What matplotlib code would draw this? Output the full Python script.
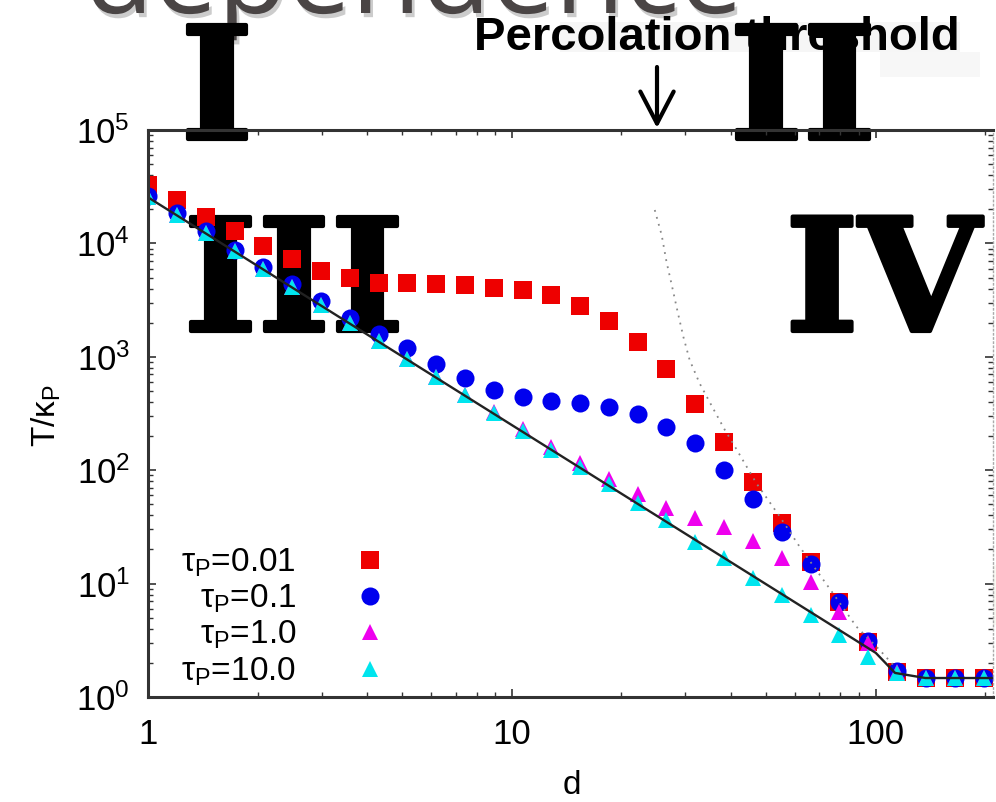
import matplotlib
matplotlib.use("Agg")
import matplotlib.pyplot as plt
import matplotlib.patheffects as pe
from matplotlib.ticker import LogLocator, NullFormatter, FixedLocator, FixedFormatter

plt.rcParams['font.family'] = ['Liberation Sans', 'DejaVu Sans']
plt.rcParams['mathtext.fontset'] = 'custom'
plt.rcParams['mathtext.rm'] = 'Liberation Sans'
plt.rcParams['mathtext.it'] = 'Liberation Sans:italic'
plt.rcParams['mathtext.bf'] = 'Liberation Sans:bold'

# ---------------- data ----------------
d_values = [1.0, 1.2, 1.44, 1.73, 2.07, 2.49, 2.99, 3.58, 4.30, 5.16,
            6.19, 7.43, 8.92, 10.7, 12.8, 15.4, 18.5, 22.2, 26.6, 31.9,
            38.3, 46.0, 55.2, 66.2, 79.5, 95.4, 114.5, 137.4, 164.9, 197.9]

T_tau001 = [3.27e4, 2.41e4, 1.71e4, 1.29e4, 9500, 7280, 5710, 4950, 4470, 4470,
            4390, 4300, 4040, 3880, 3510, 2800, 2070, 1350, 780, 384,
            177, 78.7, 34.2, 15.5, 6.9, 3.05, 1.66, 1.47, 1.47, 1.47]

T_tau01 = [2.62e4, 1.85e4, 1.28e4, 8800, 6200, 4350, 3080, 2200, 1600, 1200,
           865, 651, 510, 443, 408, 392, 361, 313, 241, 174,
           100, 55.7, 28.5, 14.9, 6.9, 3.1, 1.69, 1.47, 1.47, 1.47]

T_tau1 = [2.55e4, 1.77e4, 1.23e4, 8540, 5930, 4120, 2860, 1990, 1380, 958,
          665, 462, 325, 230, 160, 116, 83.6, 61.7, 46.4, 37.9,
          31.5, 23.8, 16.8, 10.3, 5.6, 3.0, 1.66, 1.47, 1.47, 1.47]

T_tau10 = [2.55e4, 1.77e4, 1.23e4, 8540, 5930, 4120, 2860, 1990, 1380, 958,
           665, 462, 320, 222, 151, 107, 75.5, 51.4, 36.4, 23.3,
           16.8, 11.2, 7.9, 5.3, 3.52, 2.25, 1.63, 1.47, 1.47, 1.47]

line_d = [1.0, 100.0, 113.0, 137.0, 212.0]
line_T = [2.55e4, 2.45, 1.63, 1.47, 1.47]

dot_d = [24.7, 25.8, 26.6, 27.5, 28.5, 29.6, 30.8, 32.8, 35.7, 38.5,
         40.5, 47.0, 54.5, 61.8, 76.3, 88.5, 102.5, 112.8]
dot_T = [19700, 11860, 6900, 4300, 2550, 1500, 937, 584, 352, 226,
         173, 76.6, 38.9, 21.1, 8.2, 4.17, 2.6, 1.85]

series_labels = [r'$\mathregular{\tau_P}$=0.01', r'$\mathregular{\tau_P}$=0.1',
                 r'$\mathregular{\tau_P}$=1.0', r'$\mathregular{\tau_P}$=10.0']

x_ticks = [1, 10, 100]
x_tick_labels = ['1', '10', '100']
y_exponents = [0, 1, 2, 3, 4, 5]

# ---------------- figure ----------------
W, H = 996, 802
fig = plt.figure(figsize=(W / 100, H / 100), dpi=100)
fig.patch.set_facecolor('white')
ax = fig.add_axes([148 / W, 105 / H, 845 / W, 567 / H])


def fpos(x, y):
    return x / W, 1 - y / H


# very faint remnants of the slide background
for (x0, y0, w, h, c) in [(560, 22, 400, 30, '#f6f6f6'), (880, 52, 100, 25, '#f7f7f7'),
                          (915, 565, 81, 60, '#f8f8f2')]:
    fig.patches.append(plt.Rectangle(fpos(x0, y0 + h), w / W, h / H,
                                     transform=fig.transFigure, color=c, lw=0, zorder=-1))

# slide title remnant
ax.text(*fpos(84, 13), 'dependence', transform=fig.transFigure, fontsize=82, color='#4a4545',
        family=['Open Sans', 'DejaVu Sans'], ha='left', va='baseline', zorder=0.5, clip_on=False,
        path_effects=[pe.withSimplePatchShadow(offset=(2, -3), shadow_rgbFace='#aaaaaa', alpha=0.6)])

# data
h1, = ax.plot(d_values, T_tau001, ls='none', marker='s', ms=12.5, mew=0, color='#ee0000', zorder=2)
h2, = ax.plot(d_values, T_tau01, ls='none', marker='o', ms=13, mew=0, color='#0000ee', zorder=2.1)
h3, = ax.plot(d_values, T_tau1, ls='none', marker='^', ms=11, mew=0, color='#ee00ee', zorder=2.2)
h4, = ax.plot(d_values, T_tau10, ls='none', marker='^', ms=11, mew=0, color='#00e5ee', zorder=2.3)
ax.plot(line_d, line_T, color='#222222', lw=1.7, zorder=2.4)
ax.plot(dot_d, dot_T, color='#888888', lw=1.3, ls=(0, (1, 3)), zorder=2.4)

ax.set_xscale('log')
ax.set_yscale('log')
ax.set_xlim(1, 210)
ax.set_ylim(1, 1e5)

ax.xaxis.set_major_locator(FixedLocator(x_ticks))
ax.xaxis.set_major_formatter(FixedFormatter(x_tick_labels))
ax.xaxis.set_minor_locator(LogLocator(base=10, subs=range(2, 10)))
ax.xaxis.set_minor_formatter(NullFormatter())
ax.yaxis.set_major_locator(FixedLocator([10.0 ** e for e in y_exponents]))
ax.yaxis.set_major_formatter(FixedFormatter([r'$\mathregular{10^{%d}}$' % e for e in y_exponents]))
ax.yaxis.set_minor_locator(LogLocator(base=10, subs=range(2, 10)))
ax.yaxis.set_minor_formatter(NullFormatter())

ax.tick_params(which='both', direction='in', top=True, right=True, color='#333333')
ax.tick_params(which='major', length=6, width=1.2)
ax.tick_params(which='minor', length=3.5, width=1.0)
ax.tick_params(axis='x', which='major', labelsize=25, pad=15)
ax.tick_params(axis='y', which='major', labelsize=25, pad=13)

for s in ['left', 'bottom', 'top']:
    ax.spines[s].set_color('#333333')
    ax.spines[s].set_linewidth(2.2)
ax.spines['right'].set_color('#aaaaaa')
ax.spines['right'].set_linewidth(1.0)
ax.spines['right'].set_linestyle((0, (1, 2)))

ax.set_xlabel('d', fontsize=24)
ax.xaxis.set_label_coords((572 - 148) / 845, (697 - 786) / 567)
ax.xaxis.label.set_verticalalignment('center')
ax.set_ylabel(r'$\mathregular{T/\kappa_P}$', fontsize=24)
ax.yaxis.set_label_coords((46 - 148) / 845, (697 - 416) / 567)
ax.yaxis.label.set_verticalalignment('center')

leg = ax.legend([h1, h2, h3, h4], series_labels, loc='center',
                bbox_to_anchor=((292 - 148) / 845, (697 - 617) / 567),
                markerfirst=False, frameon=False, fontsize=24, handlelength=2.0,
                handletextpad=1.2, labelspacing=0.12, borderpad=0, borderaxespad=0)

# Percolation threshold annotation
ax.text(*fpos(717, 50), 'Percolation threshold', transform=fig.transFigure,
        family=['Liberation Sans'], fontweight='bold', fontsize=34,
        ha='center', va='baseline', zorder=0.9, clip_on=False)
ax.annotate('', xy=(657, H - 128), xytext=(657, H - 67), xycoords='figure pixels',
            textcoords='figure pixels',
            arrowprops=dict(arrowstyle='->,head_length=1.15,head_width=0.6', lw=3,
                            color='black', mutation_scale=20, shrinkA=0, shrinkB=0),
            zorder=1, annotation_clip=False)

# region numerals
roman = [('I', 217, 139), ('II', 803, 139), ('III', 294, 331), ('IV', 883, 331)]
for s, x, y in roman:
    ax.text(*fpos(x, y), s, transform=fig.transFigure, family='DejaVu Serif',
            fontweight='bold', fontsize=113, ha='center', va='baseline',
            color='black', zorder=1, clip_on=False,
            path_effects=[pe.Stroke(linewidth=3, foreground='black'), pe.Normal()])

fig.savefig('out.png', dpi=100, facecolor='white')
